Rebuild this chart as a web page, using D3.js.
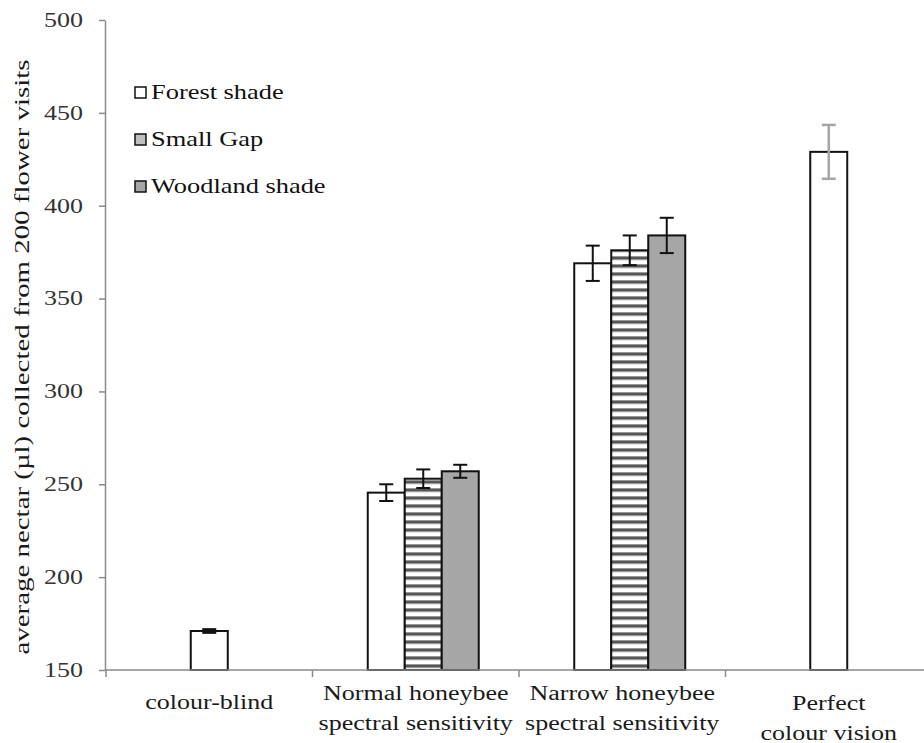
<!DOCTYPE html>
<html>
<head>
<meta charset="utf-8">
<script src="https://cdn.jsdelivr.net/npm/d3@7"></script>
<style>
  body { margin: 0; background: #fff; }
  text { font-family: "Liberation Serif", "Times New Roman", serif; }
</style>
</head>
<body>
<div id="chart"></div>
<script>
// categories along the x axis, each split into label lines
var categories = ["colour-blind", "Normal honeybee spectral sensitivity",
                  "Narrow honeybee spectral sensitivity", "Perfect colour vision"];
var categoryLines = [["colour-blind"],
                     ["Normal honeybee", "spectral sensitivity"],
                     ["Narrow honeybee", "spectral sensitivity"],
                     ["Perfect", "colour vision"]];

var seriesNames = ["Forest shade", "Small Gap", "Woodland shade"];

// means and error (+/-), null where a series is absent
var forestVals    = [171, 245.5, 369, 429];
var forestErr     = [1, 4.5, 9.5, 14.5];
var smallGapVals  = [null, 253, 376, null];
var smallGapErr   = [null, 5, 8, null];
var woodlandVals  = [null, 257, 384, null];
var woodlandErr   = [null, 3.5, 9.5, null];

var yTicks = [150, 200, 250, 300, 350, 400, 450, 500];
var yTitle = "average nectar (\u00b5l) collected from 200 flower visits";

var width = 924, height = 743;
var barWidth = 37;
var clusterShift = 7.5;  // multi-bar clusters sit a little right of the band centre
var stretch = 1.3;       // glyphs in the original are drawn wide

var allVals = [forestVals, smallGapVals, woodlandVals];
var allErr  = [forestErr, smallGapErr, woodlandErr];

var svg = d3.select("#chart").append("svg")
    .attr("width", width)
    .attr("height", height);

svg.append("rect").attr("width", width).attr("height", height).attr("fill", "#fff");

// horizontal stripe fill for Small Gap
var defs = svg.append("defs");
var pat = defs.append("pattern")
    .attr("id", "stripes")
    .attr("patternUnits", "userSpaceOnUse")
    .attr("width", 8).attr("height", 8);
pat.append("rect").attr("width", 8).attr("height", 8).attr("fill", "#fff");
pat.append("rect").attr("y", 0).attr("width", 8).attr("height", 1).attr("fill", "#9a9a9a");
pat.append("rect").attr("y", 1).attr("width", 8).attr("height", 2).attr("fill", "#555");
pat.append("rect").attr("y", 3).attr("width", 8).attr("height", 1).attr("fill", "#9a9a9a");
pat.append("rect").attr("y", 4).attr("width", 8).attr("height", 1).attr("fill", "#e6e6e6");

var seriesFill = ["#ffffff", "url(#stripes)", "#a6a6a6"];
var legendFill = ["#ffffff", "#bfbfbf", "#a6a6a6"];

var y = d3.scaleLinear().domain([150, 500]).range([670, 20]);
var x = d3.scaleBand().domain(categories).range([106, 932]).padding(0);

// widen text to match the stretched look of the picture
function widen(sel, k) {
  sel.each(function() {
    var w = this.getComputedTextLength();
    d3.select(this).attr("textLength", w * k).attr("lengthAdjust", "spacingAndGlyphs");
  });
}

// build the list of bars: within each category, only the series that have a value
var bars = [];
categories.forEach(function(cat, i) {
  var present = [];
  allVals.forEach(function(vals, s) { if (vals[i] != null) present.push(s); });
  var shift = present.length > 1 ? clusterShift : 0;
  var x1 = d3.scaleBand().domain(present)
      .range([-present.length * barWidth / 2, present.length * barWidth / 2]);
  present.forEach(function(s) {
    bars.push({cat: cat, idx: i, series: s, value: allVals[s][i], err: allErr[s][i],
               x: x(cat) + x.bandwidth() / 2 + x1(s) + shift, w: x1.bandwidth()});
  });
});

svg.append("g").selectAll("rect")
  .data(bars)
  .join("rect")
    .attr("x", function(d) { return d.x; })
    .attr("y", function(d) { return y(d.value); })
    .attr("width", function(d) { return d.w; })
    .attr("height", function(d) { return y(150) - y(d.value); })
    .attr("fill", function(d) { return seriesFill[d.series]; })
    .attr("stroke", "#111")
    .attr("stroke-width", 2);

// error bars
var eb = svg.append("g").selectAll("g")
  .data(bars)
  .join("g")
    .attr("stroke", function(d) { return d.idx === 3 ? "#a6a6a6" : "#111"; })
    .attr("stroke-width", function(d) { return d.idx === 3 ? 2.5 : 2; });
eb.append("line")
    .attr("x1", function(d) { return d.x + d.w / 2; })
    .attr("x2", function(d) { return d.x + d.w / 2; })
    .attr("y1", function(d) { return y(d.value + d.err); })
    .attr("y2", function(d) { return y(d.value - d.err); });
eb.selectAll("line.cap")
  .data(function(d) { return [d, d].map(function(v, k) { return {d: v, k: k}; }); })
  .join("line")
    .attr("class", "cap")
    .attr("x1", function(c) { return c.d.x + c.d.w / 2 - 7; })
    .attr("x2", function(c) { return c.d.x + c.d.w / 2 + 7; })
    .attr("y1", function(c) { return y(c.d.value + (c.k ? -c.d.err : c.d.err)); })
    .attr("y2", function(c) { return y(c.d.value + (c.k ? -c.d.err : c.d.err)); });

// y axis
var yAxis = svg.append("g")
    .attr("transform", "translate(105,0)")
    .call(d3.axisLeft(y).tickValues(yTicks).tickSize(6).tickSizeOuter(0).tickPadding(16));
yAxis.select(".domain").attr("stroke", "#8a8a8a").attr("stroke-width", 1.5);
yAxis.selectAll(".tick line").attr("stroke", "#8a8a8a").attr("stroke-width", 1.5);
yAxis.selectAll(".tick text")
    .attr("font-size", 20)
    .attr("fill", "#333")
    .call(widen, stretch);

// x axis line with ticks at category boundaries
var xAxis = svg.append("g");
xAxis.append("line")
    .attr("x1", 105).attr("x2", 932)
    .attr("y1", y(150)).attr("y2", y(150))
    .attr("stroke", "#8a8a8a").attr("stroke-width", 1.5);
xAxis.selectAll("line.bound")
  .data(categories)
  .join("line")
    .attr("class", "bound")
    .attr("x1", function(d) { return x(d); })
    .attr("x2", function(d) { return x(d); })
    .attr("y1", y(150)).attr("y2", y(150) + 7)
    .attr("stroke", "#8a8a8a").attr("stroke-width", 1.5);

var catLab = xAxis.selectAll("text")
  .data(categories)
  .join("text")
    .attr("text-anchor", "middle")
    .attr("font-size", 20)
    .attr("fill", "#1a1a1a");
catLab.each(function(d, i) {
  var lines = categoryLines[i];
  var top = lines.length === 1 ? 709 : (i === 3 ? 710 : 700);
  d3.select(this).selectAll("tspan")
    .data(lines)
    .join("tspan")
      .attr("x", x(d) + x.bandwidth() / 2)
      .attr("y", function(l, j) { return top + j * 30; })
      .text(function(l) { return l; });
});
catLab.selectAll("tspan").call(widen, stretch);

// y title
svg.append("text")
    .attr("transform", "translate(29,357) rotate(-90)")
    .attr("text-anchor", "middle")
    .attr("font-size", 20)
    .attr("fill", "#1a1a1a")
    .attr("textLength", 595)
    .attr("lengthAdjust", "spacingAndGlyphs")
    .text(yTitle);

// legend
var legend = svg.append("g").selectAll("g")
  .data(seriesNames)
  .join("g")
    .attr("transform", function(d, i) { return "translate(135," + (87 + i * 47) + ")"; });
legend.append("rect")
    .attr("width", 11).attr("height", 11)
    .attr("fill", function(d, i) { return legendFill[i]; })
    .attr("stroke", "#111").attr("stroke-width", 1.5);
legend.append("text")
    .attr("x", 16).attr("y", 12)
    .attr("font-size", 22)
    .attr("fill", "#111")
    .text(function(d) { return d; })
    .call(widen, 1.2);
</script>
</body>
</html>
